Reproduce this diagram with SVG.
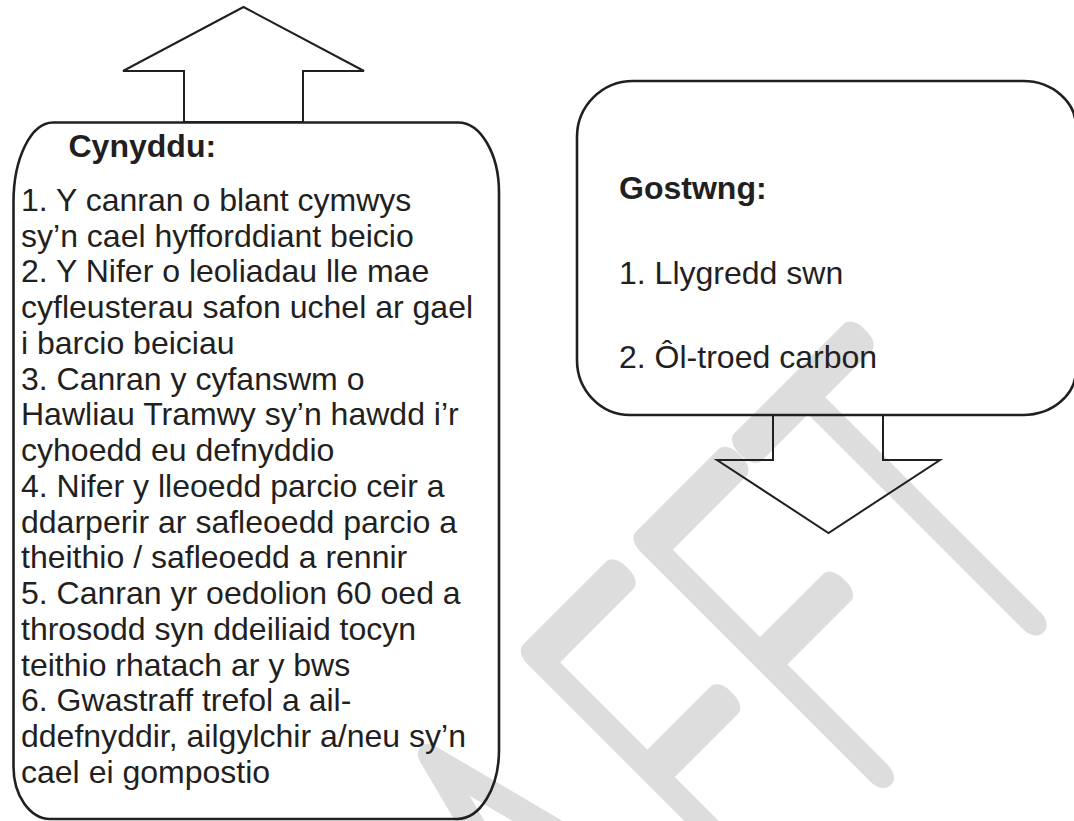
<svg xmlns="http://www.w3.org/2000/svg" width="1074" height="821" viewBox="0 0 1074 821">
<style>
.box{fill:none;stroke:#231f20;stroke-width:2.6}
.arrow{fill:none;stroke:#231f20;stroke-width:2;stroke-linejoin:miter}
.t{font-family:'Liberation Sans',Arial,sans-serif;font-size:30.5px;fill:#231f20}
.b{font-weight:bold}
.wm{font-family:Lato,Roboto,'Noto Sans',sans-serif;font-weight:100;font-size:465px;fill:#dddddd;stroke:#dddddd;stroke-width:28;stroke-linejoin:round;stroke-linecap:round;vector-effect:non-scaling-stroke}
</style>
<rect width="1074" height="821" fill="#ffffff"/>
<g id="watermark" transform="rotate(-45)">
<text class="wm" transform="scale(0.62 1)" y="1168" x="-1135 -806 -520 -193 64 336">DRAFFT</text>
</g>
<g id="connectors">
<polygon id="up-arrow" class="arrow" points="184,122 184,71 123,71 243.5,7 364,71 303,71 303,122"/>
<polygon id="down-arrow" class="arrow" points="773,415 773,460 717,460 828.5,533 940,460 883,460 883,415"/>
</g>
<g id="box-cynyddu">
<path class="box" d="M53,122.5 H458 A41,70 0 0 1 499,192.5 V750 A42,69 0 0 1 457,819 H50 A37,52 0 0 1 13.5,767 V202 A39.5,79.5 0 0 1 53,122.5 Z"/>
<g transform="translate(68.5 0) scale(1.05 1)"><text class="t b" x="0" y="157">Cynyddu:</text></g>
<g transform="translate(21 0) scale(1.05 1)">
<text class="t" y="211">
<tspan x="0">1. Y canran o blant cymwys</tspan>
<tspan x="0" dy="35.75">sy’n cael hyfforddiant beicio</tspan>
<tspan x="0" dy="35.75">2. Y Nifer o leoliadau lle mae</tspan>
<tspan x="0" dy="35.75">cyfleusterau safon uchel ar gael</tspan>
<tspan x="0" dy="35.75">i barcio beiciau</tspan>
<tspan x="0" dy="35.75">3. Canran y cyfanswm o</tspan>
<tspan x="0" dy="35.75">Hawliau Tramwy sy’n hawdd i’r</tspan>
<tspan x="0" dy="35.75">cyhoedd eu defnyddio</tspan>
<tspan x="0" dy="35.75">4. Nifer y lleoedd parcio ceir a</tspan>
<tspan x="0" dy="35.75">ddarperir ar safleoedd parcio a</tspan>
<tspan x="0" dy="35.75">theithio / safleoedd a rennir</tspan>
<tspan x="0" dy="35.75">5. Canran yr oedolion 60 oed a</tspan>
<tspan x="0" dy="35.75">throsodd syn ddeiliaid tocyn</tspan>
<tspan x="0" dy="35.75">teithio rhatach ar y bws</tspan>
<tspan x="0" dy="35.75">6. Gwastraff trefol a ail-</tspan>
<tspan x="0" dy="35.75">ddefnyddir, ailgylchir a/neu sy’n</tspan>
<tspan x="0" dy="35.75">cael ei gompostio</tspan>
</text>
</g>
</g>
<g id="box-gostwng">
<path class="box" d="M633,81 H1023 A53,46 0 0 1 1076,127 V370 A53,45 0 0 1 1023,415 H630 A53,55 0 0 1 577,360 V137 A56,56 0 0 1 633,81 Z"/>
<g transform="translate(619 0) scale(1.05 1)">
<text class="t b" x="0" y="199">Gostwng:</text>
<text class="t" x="0" y="284">1. Llygredd swn</text>
<text class="t" x="0" y="368">2. Ôl-troed carbon</text>
</g>
</g>
</svg>
